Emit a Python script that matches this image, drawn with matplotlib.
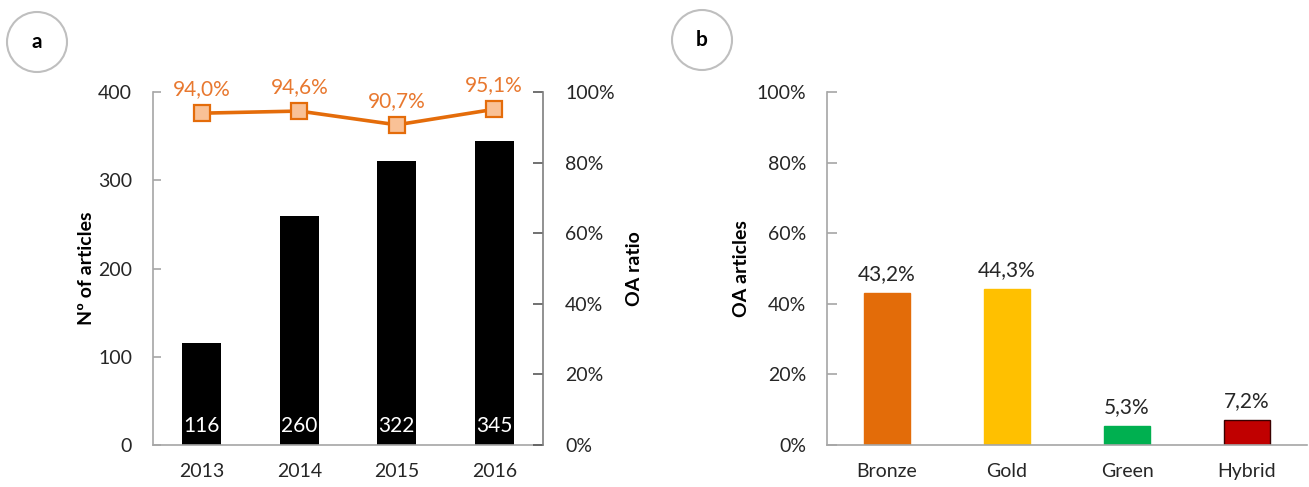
import matplotlib
matplotlib.use("Agg")
import matplotlib.pyplot as plt
from matplotlib.patches import Ellipse
from matplotlib.ticker import FuncFormatter

plt.rcParams['font.family'] = ['Lato', 'DejaVu Sans']

# Panel a: articles per year and open-access ratio
years = ['2013', '2014', '2015', '2016']
articles = [116, 260, 322, 345]
oa_ratio = [94.0, 94.6, 90.7, 95.1]

# Panel b: share of OA articles by route
oa_types = ['Bronze', 'Gold', 'Green', 'Hybrid']
oa_share = [43.2, 44.3, 5.3, 7.2]
oa_colors = ['#E36C09', '#FFC000', '#00B050', '#C00000']

SPINE = '#A6A6A6'
TXT = '#262626'
ORANGE = '#E46C0A'
FS = 14
FS_LAB = 15

W, H = 1309, 487
fig = plt.figure(figsize=(W / 100, H / 100), dpi=100)


def pct(v, _):
    return f"{v * 100:.0f}%"


def style(ax, sides):
    for s in ['top', 'left', 'right', 'bottom']:
        ax.spines[s].set_visible(s in sides)
        ax.spines[s].set_color(SPINE)
        ax.spines[s].set_linewidth(1.2)


# ---------- panel a ----------
ax1 = fig.add_axes([153 / W, 42 / H, 390 / W, 353 / H])
x = range(len(years))
ax1.bar(x, articles, width=0.4, color='black', zorder=2)
for xi, v in zip(x, articles):
    ax1.text(xi, 10, f"{v}", ha='center', va='bottom', color='white', fontsize=FS_LAB)
ax1.set_xlim(-0.5, len(years) - 0.5)
ax1.set_ylim(0, 400)
ax1.set_yticks([0, 100, 200, 300, 400])
ax1.set_xticks(list(x))
ax1.set_xticklabels(years)
style(ax1, ['left', 'bottom'])
ax1.tick_params(axis='y', direction='in', length=6, color=SPINE, width=1.2,
                labelsize=FS, labelcolor=TXT, pad=15)
ax1.tick_params(axis='x', length=0, labelsize=FS, labelcolor=TXT, pad=13)
ax1.set_ylabel('Nº of articles', fontsize=FS, fontweight='bold', color='black', labelpad=2)

ax2 = ax1.twinx()
ratio = [v / 100 for v in oa_ratio]
ax2.plot(list(x), ratio, color=ORANGE, lw=2.6, marker='s', markersize=12,
         markerfacecolor='#F9C196', markeredgecolor=ORANGE, markeredgewidth=1.6,
         zorder=3)
for xi, v in zip(x, oa_ratio):
    ax2.text(xi, v / 100 + 0.04, f"{v:.1f}%".replace('.', ','), ha='center',
             va='bottom', color='#E8782F', fontsize=FS_LAB)
ax2.set_ylim(0, 1)
ax2.set_yticks([0, 0.2, 0.4, 0.6, 0.8, 1.0])
ax2.yaxis.set_major_formatter(FuncFormatter(pct))
style(ax2, ['right'])
ax2.tick_params(axis='y', direction='in', length=7, color='#595959', width=1.2,
                labelsize=FS, labelcolor=TXT, pad=16)
ax2.spines['right'].set_color('#7F7F7F')
ax2.set_ylabel('OA ratio', fontsize=FS, fontweight='bold', color='black', labelpad=8)

# ---------- panel b ----------
ax3 = fig.add_axes([827 / W, 42 / H, 480 / W, 353 / H])
xb = range(len(oa_types))
share = [v / 100 for v in oa_share]
edges = [c if c != '#C00000' else '#3A0000' for c in oa_colors]
ax3.bar(xb, share, width=0.39, color=oa_colors, edgecolor=edges, linewidth=1.0, zorder=2)
for xi, v in zip(xb, oa_share):
    ax3.text(xi, v / 100 + 0.025, f"{v:.1f}%".replace('.', ','), ha='center',
             va='bottom', color=TXT, fontsize=FS_LAB)
ax3.set_xlim(-0.5, len(oa_types) - 0.5)
ax3.set_ylim(0, 1)
ax3.set_yticks([0, 0.2, 0.4, 0.6, 0.8, 1.0])
ax3.yaxis.set_major_formatter(FuncFormatter(pct))
ax3.set_xticks(list(xb))
ax3.set_xticklabels(oa_types)
style(ax3, ['left', 'bottom'])
ax3.tick_params(axis='y', direction='in', length=7, color=SPINE, width=1.2,
                labelsize=FS, labelcolor=TXT, pad=15)
ax3.tick_params(axis='x', length=0, labelsize=FS, labelcolor=TXT, pad=13)
ax3.set_ylabel('OA articles', fontsize=FS, fontweight='bold', color='black', labelpad=5)

# ---------- panel badges ----------
for cx, cy, lab in [(37, 42, 'a'), (702, 40, 'b')]:
    fig.patches.append(Ellipse((cx / W, 1 - cy / H), 60 / W, 60 / H,
                               transform=fig.transFigure, facecolor='white',
                               edgecolor='#BFBFBF', linewidth=1.5))
    fig.text(cx / W, 1 - cy / H, lab, ha='center', va='center',
             fontsize=FS + 1, fontweight='bold', color='black')

fig.savefig('out.png', dpi=100, facecolor='white')
